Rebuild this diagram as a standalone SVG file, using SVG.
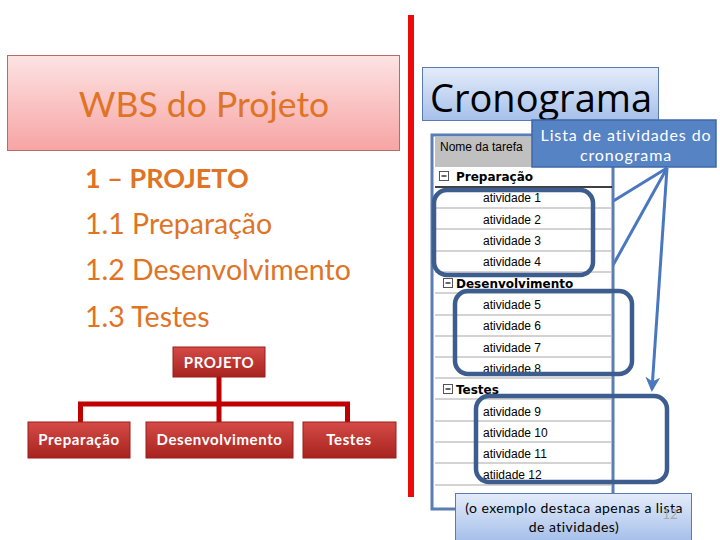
<svg xmlns="http://www.w3.org/2000/svg" width="720" height="540" viewBox="0 0 720 540">
<defs>
<linearGradient id="pink" x1="0" y1="0" x2="0" y2="1"><stop offset="0" stop-color="#fde3e3"/><stop offset="1" stop-color="#f7a4a4"/></linearGradient>
<linearGradient id="red" x1="0" y1="0" x2="0" y2="1"><stop offset="0" stop-color="#d44a46"/><stop offset="1" stop-color="#a8231f"/></linearGradient>
<linearGradient id="blue" x1="0" y1="0" x2="0" y2="1"><stop offset="0" stop-color="#e4ecfa"/><stop offset="1" stop-color="#a6c0ea"/></linearGradient>
<marker id="ah" viewBox="0 0 10 10" refX="8" refY="5" markerWidth="5" markerHeight="5" orient="auto"><path d="M0,0 L10,5 L0,10 L3,5 z" fill="#4a78c0"/></marker>
<style>
.cal{font-family:Lato,"Open Sans",sans-serif}
.or{fill:#e07426}
.org rect{fill:url(#red);stroke:#9a1f1c;stroke-width:1}
.org text{font-family:Lato,sans-serif;font-weight:bold;font-size:15px;letter-spacing:0.6px;fill:#fff;text-anchor:middle}
.tb{font-family:"Liberation Sans",Arial,sans-serif;font-size:12px;fill:#000}
.tbb{font-family:"DejaVu Sans",sans-serif;font-size:12px;font-weight:bold;fill:#000}
.sep{stroke:#c4c4c4;stroke-width:1.5}
.hl{fill:none;stroke:#3d5d8e;stroke-width:4.5}
.arr{stroke:#4a78c0;stroke-width:3;fill:none;marker-end:url(#ah)}
</style>
</defs>
<rect width="720" height="540" fill="#fff"/>

<g id="wbs-title">
<rect x="7.5" y="55.5" width="392" height="95" fill="url(#pink)" stroke="#b86a6a" stroke-width="1"/>
<text x="204" y="117" class="cal or" font-size="35.5" text-anchor="middle">WBS do Projeto</text>
</g>

<g id="wbs-list" class="cal or" font-size="28.5">
<text x="85" y="188" font-weight="bold" font-size="27">1 – PROJETO</text>
<text x="85" y="234">1.1 Preparação</text>
<text x="85" y="280">1.2 Desenvolvimento</text>
<text x="85" y="327">1.3 Testes</text>
</g>

<g id="connectors">
<path d="M219,376 V404 M78,404 H350 M80.5,404 V422 M219,404 V422 M347.5,404 V422" stroke="#c00000" stroke-width="5" fill="none"/>
<path d="M667,168 L597,211" class="arr"/>
<path d="M667,168 L602,285" class="arr"/>
<path d="M667,168 L652,389" class="arr"/>
</g>

<g id="org-projeto" class="org"><rect x="173" y="347" width="92" height="30"/><text x="219" y="368">PROJETO</text></g>
<g id="org-preparacao" class="org"><rect x="28" y="422" width="102" height="36"/><text x="79" y="445">Preparação</text></g>
<g id="org-desenvolvimento" class="org"><rect x="146" y="422" width="147" height="36"/><text x="219.5" y="445">Desenvolvimento</text></g>
<g id="org-testes" class="org"><rect x="303" y="422" width="93" height="36"/><text x="349" y="445">Testes</text></g>

<g id="divider"><rect x="408" y="15" width="6" height="482" fill="#ee0a0a"/></g>

<g id="cronograma-title">
<rect x="422.5" y="67.5" width="236" height="53" fill="url(#blue)" stroke="#5a7ab0" stroke-width="1"/>
<text x="430" y="112" font-family="'Open Sans',sans-serif" font-size="38" fill="#000">Cronograma</text>
</g>

<g id="table">
<rect x="432" y="135" width="181" height="374" fill="#fff" stroke="#5b7db4" stroke-width="3"/>
<rect x="435" y="137" width="176" height="30" fill="#c0c0c0"/>
<text x="440" y="151" class="tb" font-size="12">Nome da tarefa</text>
<line x1="435" y1="187" x2="612" y2="187" stroke="#000" stroke-width="1.5"/>
<rect x="439.5" y="171.5" width="9" height="9" fill="#fff" stroke="#555" stroke-width="1"/>
<line x1="441.5" y1="176" x2="446.5" y2="176" stroke="#000" stroke-width="1.2"/>
<text x="456" y="181" class="tbb">Preparação</text>
<g class="sep">
<line x1="435" y1="208" x2="611" y2="208"/><line x1="435" y1="229" x2="611" y2="229"/><line x1="435" y1="251" x2="611" y2="251"/><line x1="435" y1="272" x2="611" y2="272"/>
<line x1="435" y1="293" x2="611" y2="293"/><line x1="435" y1="315" x2="611" y2="315"/><line x1="435" y1="336" x2="611" y2="336"/><line x1="435" y1="357" x2="611" y2="357"/><line x1="435" y1="378" x2="611" y2="378"/>
<line x1="435" y1="399" x2="611" y2="399"/><line x1="435" y1="421" x2="611" y2="421"/><line x1="435" y1="442" x2="611" y2="442"/><line x1="435" y1="463" x2="611" y2="463"/><line x1="435" y1="485" x2="611" y2="485"/>
</g>
<text x="483" y="202" class="tb">atividade 1</text>
<text x="483" y="224" class="tb">atividade 2</text>
<text x="483" y="245" class="tb">atividade 3</text>
<text x="483" y="266" class="tb">atividade 4</text>
<rect x="443.5" y="278.5" width="9" height="9" fill="#fff" stroke="#555" stroke-width="1"/>
<line x1="445.5" y1="283" x2="450.5" y2="283" stroke="#000" stroke-width="1.2"/>
<text x="456" y="288" class="tbb">Desenvolvimento</text>
<text x="483" y="309" class="tb">atividade 5</text>
<text x="483" y="330" class="tb">atividade 6</text>
<text x="483" y="352" class="tb">atividade 7</text>
<text x="483" y="373" class="tb">atividade 8</text>
<rect x="443.5" y="384.5" width="9" height="9" fill="#fff" stroke="#555" stroke-width="1"/>
<line x1="445.5" y1="389" x2="450.5" y2="389" stroke="#000" stroke-width="1.2"/>
<text x="456" y="394" class="tbb">Testes</text>
<text x="483" y="416" class="tb">atividade 9</text>
<text x="483" y="437" class="tb">atividade 10</text>
<text x="483" y="458" class="tb">atividade 11</text>
<text x="483" y="479" class="tb">atiidade 12</text>
</g>

<g id="highlights">
<rect x="434" y="190" width="159" height="85" rx="13" class="hl"/>
<rect x="455" y="291" width="177" height="83" rx="13" class="hl"/>
<rect x="476" y="396" width="191" height="86" rx="13" class="hl"/>
</g>

<g id="callout-lista">
<rect x="532" y="120" width="184" height="47" fill="#5683c4" stroke="#3f68a8" stroke-width="1.5"/>
<text x="626" y="141" class="cal" font-size="16" letter-spacing="0.9" fill="#fff" text-anchor="middle">Lista de atividades do</text>
<text x="626" y="161" class="cal" font-size="16" letter-spacing="0.9" fill="#fff" text-anchor="middle">cronograma</text>
</g>

<g id="callout-exemplo">
<rect x="455.5" y="493.5" width="236" height="47" fill="url(#blue)" stroke="#5a7ab0" stroke-width="1"/>
<text x="574" y="513" class="cal" font-size="14" letter-spacing="0.45" fill="#000" text-anchor="middle">(o exemplo destaca apenas a lista</text>
<text x="574" y="532" class="cal" font-size="14" letter-spacing="0.45" fill="#000" text-anchor="middle">de atividades)</text>
<text x="670" y="519" class="cal" font-size="13" fill="#a8a8a8" text-anchor="middle">12</text>
</g>
</svg>
